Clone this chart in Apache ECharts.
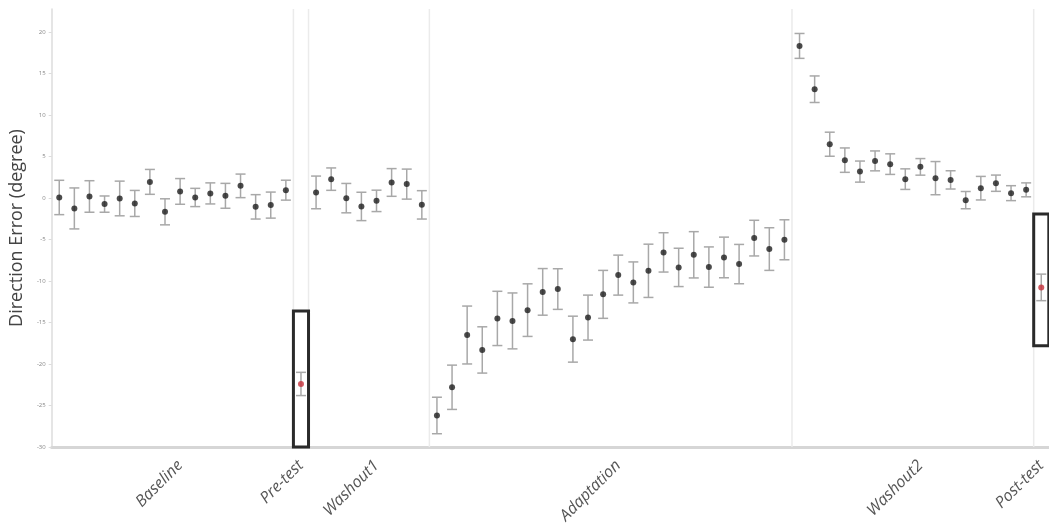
<!DOCTYPE html>
<html>
<head>
<meta charset="utf-8">
<script src="https://cdn.jsdelivr.net/npm/echarts@6/dist/echarts.min.js"></script>
<style>html,body{margin:0;padding:0;background:#fff}#c{width:1049px;height:529px}</style>
</head>
<body>
<div id="c"></div>
<script>
// ---- data (degrees) ----
const baselineMean = [0.08, -1.24, 0.2, -0.72, -0.04, -0.64, 1.96, -1.65, 0.81, 0.08, 0.57, 0.28, 1.48, -1.05, -0.84, 0.96];
const baselineSE   = [2.07, 2.47, 1.9, 0.98, 2.09, 1.57, 1.5, 1.57, 1.55, 1.1, 1.27, 1.5, 1.42, 1.47, 1.57, 1.2];
const pretestMean  = [-22.4];
const pretestSE    = [1.4];
const washout1Mean = [0.69, 2.29, 0.0, -1.0, -0.33, 1.89, 1.69, -0.81];
const washout1SE   = [1.97, 1.35, 1.77, 1.71, 1.29, 1.67, 1.81, 1.71];
const adaptationMean = [-26.2, -22.8, -16.5, -18.3, -14.5, -14.8, -13.5, -11.3, -10.96, -17.0, -14.4, -11.6,
                        -9.28, -10.16, -8.76, -6.54, -8.35, -6.83, -8.31, -7.15, -7.95, -4.82, -6.14, -5.02];
const adaptationSE   = [2.2, 2.67, 3.49, 2.79, 3.27, 3.37, 3.17, 2.81, 2.45, 2.77, 2.71, 2.89,
                        2.41, 2.47, 3.21, 2.37, 2.31, 2.79, 2.43, 2.45, 2.37, 2.15, 2.57, 2.41];
const washout2Mean = [18.35, 13.13, 6.5, 4.58, 3.2, 4.49, 4.1, 2.29, 3.77, 2.41, 2.2, -0.24, 1.2, 1.8, 0.6, 1.0];
const washout2SE   = [1.5, 1.6, 1.45, 1.47, 1.27, 1.2, 1.24, 1.24, 1.0, 2.0, 1.1, 1.04, 1.42, 0.98, 0.9, 0.84];
const posttestMean = [-10.76];
const posttestSE   = [1.6];

const groupNames  = ['Baseline', 'Pre-test', 'Washout1', 'Adaptation', 'Washout2', 'Post-test'];
const groupLabelAt = [8, 16, 21, 37, 57, 65];           // category index carrying each group label
const highlightBoxes = [  // [category index, top value, bottom value]
  [16, -13.6, -30],
  [65, -1.9, -17.8]
];
const yTicks = { min: -30, max: 22.8, interval: 5 };

// ---- build ----
const allMean = [].concat(baselineMean, pretestMean, washout1Mean, adaptationMean, washout2Mean, posttestMean);
const allSE   = [].concat(baselineSE, pretestSE, washout1SE, adaptationSE, washout2SE, posttestSE);
const N = allMean.length;
const cats = [];
for (let i = 0; i < N; i++) {
  const g = groupLabelAt.indexOf(i);
  cats.push(g >= 0 ? groupNames[g] : '\u200b'.repeat(i + 1));
}
const redIdx = [baselineMean.length, N - 1];
const blackData = [], redData = [], errData = [];
for (let i = 0; i < N; i++) {
  if (redIdx.indexOf(i) >= 0) redData.push([i, allMean[i]]);
  else blackData.push([i, allMean[i]]);
  errData.push([i, allMean[i] - allSE[i], allMean[i] + allSE[i]]);
}
const lens = [baselineMean.length, pretestMean.length, washout1Mean.length, adaptationMean.length, washout2Mean.length];
const boundaries = [];
let acc = -1;
lens.forEach(l => { acc += l; boundaries.push(acc); });

const chart = echarts.init(document.getElementById('c'));
chart.setOption({
  animation: false,
  backgroundColor: '#fff',
  grid: { left: 50.7, right: -3, top: 9, bottom: 82, containLabel: false },
  xAxis: {
    type: 'category',
    data: cats,
    boundaryGap: true,
    axisLine: { onZero: false, lineStyle: { color: '#d6d6d6', width: 3 } },
    axisTick: { show: false },
    axisLabel: {
      interval: 0,
      rotate: 45,
      margin: 16,
      fontSize: 16,
      fontStyle: 'italic',
      fontFamily: 'Open Sans',
      color: '#555',
      formatter: v => v.replace(/\u200b/g, '')
    },
    splitLine: { show: false }
  },
  yAxis: {
    type: 'value',
    min: yTicks.min, max: yTicks.max, interval: yTicks.interval,
    name: 'Direction Error (degree)',
    nameLocation: 'middle',
    nameGap: 24,
    nameRotate: 90,
    nameTextStyle: { fontSize: 18, fontFamily: 'Open Sans', color: '#444' },
    axisLine: { show: true, lineStyle: { color: '#dcdcdc', width: 1.5 } },
    axisTick: { show: true, length: 3, lineStyle: { color: '#dcdcdc' } },
    axisLabel: { fontSize: 6, color: '#888', margin: 6, showMaxLabel: false, fontFamily: 'Open Sans' },
    splitLine: { show: false }
  },
  series: [
    {
      type: 'custom',
      name: 'separators',
      silent: true,
      z: 1,
      data: boundaries.map(b => [b]),
      renderItem: (params, api) => {
        const i = api.value(0);
        const band = api.size([1, 0])[0];
        const x = api.coord([i, 0])[0] + band / 2;
        const yTop = api.coord([i, yTicks.max])[1];
        const yBot = api.coord([i, yTicks.min])[1];
        return { type: 'line', shape: { x1: x, y1: yTop, x2: x, y2: yBot },
                 style: { stroke: '#ebebeb', lineWidth: 1.5 } };
      }
    },
    {
      type: 'custom',
      name: 'error',
      silent: true,
      z: 2,
      data: errData,
      renderItem: (params, api) => {
        const i = api.value(0);
        const lo = api.coord([i, api.value(1)]);
        const hi = api.coord([i, api.value(2)]);
        const hw = 5;
        const st = { stroke: '#a8a8a8', lineWidth: 1.5 };
        return { type: 'group', children: [
          { type: 'line', shape: { x1: lo[0], y1: lo[1], x2: hi[0], y2: hi[1] }, style: st },
          { type: 'line', shape: { x1: lo[0] - hw, y1: lo[1], x2: lo[0] + hw, y2: lo[1] }, style: st },
          { type: 'line', shape: { x1: hi[0] - hw, y1: hi[1], x2: hi[0] + hw, y2: hi[1] }, style: st }
        ]};
      }
    },
    {
      type: 'scatter', name: 'mean', z: 3, symbol: 'circle', symbolSize: 6,
      itemStyle: { color: '#1e1e1e' }, data: blackData
    },
    {
      type: 'scatter', name: 'test', z: 3, symbol: 'circle', symbolSize: 6,
      itemStyle: { color: '#c62f3a' }, data: redData
    },
    {
      type: 'custom',
      name: 'boxes',
      silent: true,
      z: 4,
      data: highlightBoxes,
      renderItem: (params, api) => {
        const i = api.value(0);
        const band = api.size([1, 0])[0];
        const top = api.coord([i, api.value(1)]);
        const bot = api.coord([i, api.value(2)]);
        return { type: 'rect',
                 shape: { x: top[0] - band / 2, y: top[1], width: band, height: bot[1] - top[1] },
                 style: { fill: null, stroke: '#2a2a2a', lineWidth: 3 } };
      }
    }
  ]
});
</script>
</body>
</html>
